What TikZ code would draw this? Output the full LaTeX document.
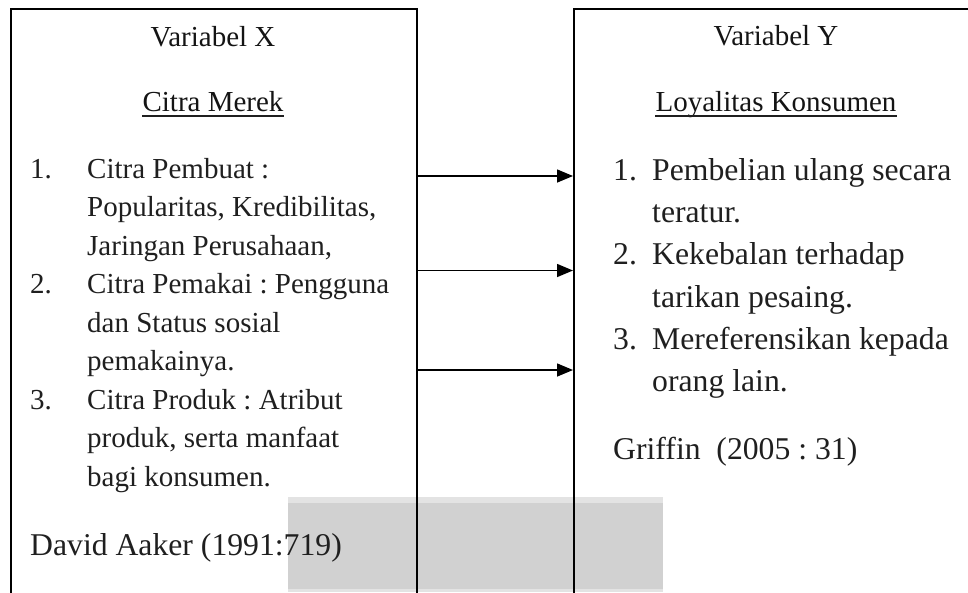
\documentclass[tikz,border=0pt]{standalone}
\usepackage{fontspec}
\setmainfont{Liberation Serif}
\usetikzlibrary{arrows.meta,calc}
\begin{document}
\frenchspacing
\begin{tikzpicture}[x=1pt,y=-1pt,
  boxline/.style={draw=black, line width=1.5pt, inner sep=0pt, anchor=north west},
  txs/.style={inner sep=0pt, anchor=base west, font=\fontsize{29}{35}\selectfont\frenchspacing, text=black!88},
  txl/.style={inner sep=0pt, anchor=base west, font=\fontsize{31.7}{38}\selectfont\frenchspacing, text=black!88},
  head/.style={inner sep=0pt, anchor=base, font=\fontsize{29}{35}\selectfont, text=black!92},
  arr/.style={line width=1.5pt, -{Triangle[length=16pt,width=13pt]}},
  uline/.style={line width=1.3pt, black!88}]
\useasboundingbox (0,0) rectangle (968,592);
% background watermark block
\fill[black!11] (288,497) rectangle (663,592);
\fill[black!18] (288,503) rectangle (663,589);
% boxes
\node[boxline, minimum width=406pt, minimum height=640pt] (lbox) at (10,8) {};
\node[boxline, minimum width=420pt, minimum height=640pt] (rbox) at (573,8) {};
% left headings
\node[head] (vx) at (213,46) {Variabel X};
\node[head] (cm) at (213,111) {Citra Merek};
\draw[uline] ($(cm.base west)+(0,5)$) -- ($(cm.base east)+(0,5)$);
% right headings
\node[head] (vy) at (776,45) {Variabel Y};
\node[head] (lk) at (776,111) {Loyalitas Konsumen};
\draw[uline] ($(lk.base west)+(0,5)$) -- ($(lk.base east)+(0,5)$);
% left list
\node[txs] (ln1) at (30,178) {1.};
\node[txs] (la1) at (87,178) {Citra Pembuat :};
\node[txs] (la2) at (87,216.5) {Popularitas, Kredibilitas,};
\node[txs] (la3) at (87,255) {Jaringan Perusahaan,};
\node[txs] (ln2) at (30,293.5) {2.};
\node[txs] (lb1) at (87,293.5) {Citra Pemakai : Pengguna};
\node[txs] (lb2) at (87,332) {dan Status sosial};
\node[txs] (lb3) at (87,370.5) {pemakainya.};
\node[txs] (ln3) at (30,409) {3.};
\node[txs] (lc1) at (87,409) {Citra Produk : Atribut};
\node[txs] (lc2) at (87,447.5) {produk, serta manfaat};
\node[txs] (lc3) at (87,486) {bagi konsumen.};
\node[txl] (lsrc) at (30,555) {David Aaker (1991:719)};
% right list
\node[txl] (rn1) at (613,180.5) {1.};
\node[txl] (ra1) at (652,180.5) {Pembelian ulang secara};
\node[txl] (ra2) at (652,222.7) {teratur.};
\node[txl] (rn2) at (613,264.9) {2.};
\node[txl] (rb1) at (652,264.9) {Kekebalan terhadap};
\node[txl] (rb2) at (652,307.1) {tarikan pesaing.};
\node[txl] (rn3) at (613,349.3) {3.};
\node[txl] (rc1) at (652,349.3) {Mereferensikan kepada};
\node[txl] (rc2) at (652,391.5) {orang lain.};
\node[txl] (rsrc) at (613,459) {Griffin\ \ (2005 : 31)};
% arrows
\coordinate (y1) at (0,176);
\coordinate (y2) at (0,270.5);
\coordinate (y3) at (0,370);
\draw[arr] (lbox.east |- y1) -- (rbox.west |- y1);
\draw[arr] (lbox.east |- y2) -- (rbox.west |- y2);
\draw[arr] (lbox.east |- y3) -- (rbox.west |- y3);
\end{tikzpicture}
\end{document}
